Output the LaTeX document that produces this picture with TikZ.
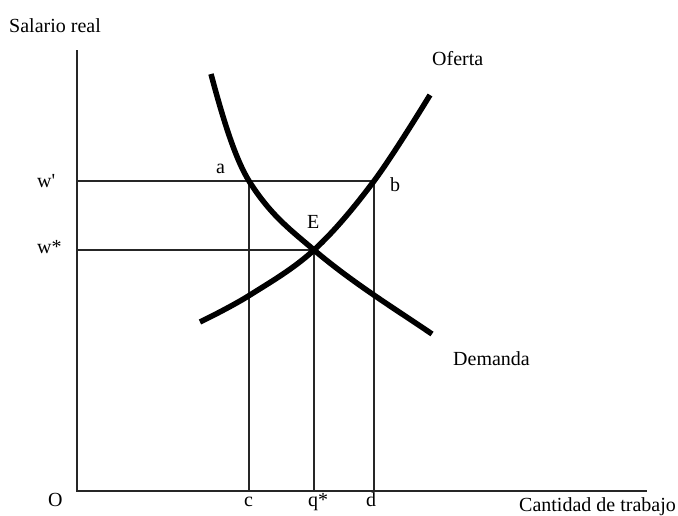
\documentclass[tikz,border=0pt]{standalone}
\usepackage{fontspec}
\setmainfont{Liberation Serif}
\begin{document}
\begin{tikzpicture}[x=1pt,y=-1pt,
  thin line/.style={line width=1.5pt,black!85},
  curve/.style={line width=5.5pt,black},
  lbl/.style={inner sep=0pt,anchor=base west,font=\fontsize{20}{23}\selectfont}]
\useasboundingbox (0,0) rectangle (678,515);
% axes
\coordinate (O) at (77,491);
\coordinate (Ytop) at (77,50);
\coordinate (Xend) at (647,491);
\draw[thin line] (Ytop) -- (O) -- (Xend);
% guide coordinates
\coordinate (wp) at (77,181);
\coordinate (ws) at (77,250);
\coordinate (A) at (249,181);
\coordinate (B) at (374,181);
\coordinate (E) at (314,250);
\coordinate (C) at (249,491);
\coordinate (Q) at (314,491);
\coordinate (D) at (374,491);
\coordinate (dstart) at (211,74);
\coordinate (dend) at (432,334);
\coordinate (sstart) at (200,322);
\coordinate (send) at (430,95);
\draw[thin line] (wp) -- (B) -- (D);
\draw[thin line] (ws) -- (E) -- (Q);
\draw[thin line] (A) -- (C);
% curves
\draw[curve] (dstart) .. controls (224,123) and (236,160) .. (A)
  .. controls (271,216) and (292,231) .. (E)
  .. controls (353,283) and (393,307.5) .. (dend);
\draw[curve] plot[smooth,tension=0.6] coordinates {(200,322) (250,295) (314,250) (374,181) (430,95)};
% labels
\node[lbl] (sal) at (9,32) {Salario real};
\node[lbl] (of) at (432,65) {Oferta};
\node[lbl] (la) at (216,173) {a};
\node[lbl] (lb) at (390,191) {b};
\node[lbl] (le) at (307,228) {E};
\node[lbl] (lwp) at (37,187) {w\textquotesingle};
\node[lbl] (lws) at (37,253) {w*};
\node[lbl] (dem) at (453,365) {Demanda};
\node[lbl] (lo) at (48,506) {O};
\node[lbl] (lc) at (244,506) {c};
\node[lbl] (lq) at (308,506) {q*};
\node[lbl] (ld) at (366,506) {d};
\node[lbl] (cant) at (519,511) {Cantidad de trabajo};
\end{tikzpicture}
\end{document}
